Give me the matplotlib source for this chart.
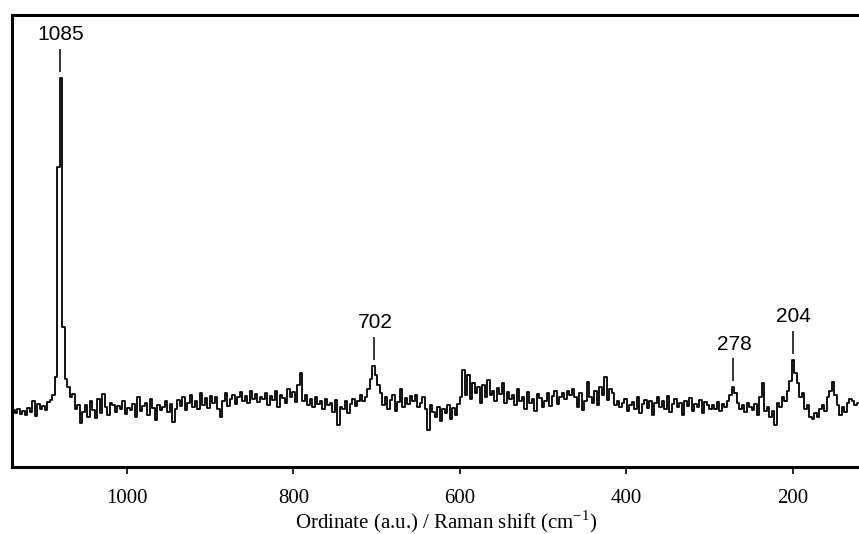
import numpy as np
import matplotlib.pyplot as plt

plt.rcParams['mathtext.fontset'] = 'custom'
plt.rcParams['mathtext.rm'] = 'Liberation Serif'

# Raman shift grid (cm-1), high to low, and intensity
shift = np.arange(1136, 120, -3)
intensity = [
    57, 54, 58, 53, 56, 52, 59, 55, 66, 51, 63, 58, 61, 57, 65, 67, 72, 90, 300, 389,
    140, 88, 80, 70, 73, 58, 62, 44, 55, 62, 50, 66, 57, 49, 68, 54, 73, 60, 52, 64,
    62, 55, 61, 58, 66, 53, 59, 57, 63, 50, 70, 56, 61, 64, 52, 68, 59, 47, 62, 57,
    60, 66, 55, 63, 45, 58, 67, 61, 70, 57, 64, 72, 60, 66, 58, 74, 62, 69, 59, 71,
    64, 70, 58, 50, 66, 74, 61, 68, 72, 63, 70, 75, 66, 71, 64, 76, 68, 73, 65, 70,
    68, 74, 62, 71, 67, 76, 60, 72, 69, 64, 78, 70, 75, 65, 82, 94, 66, 72, 62, 68,
    60, 70, 63, 66, 58, 68, 62, 64, 55, 67, 42, 60, 58, 66, 54, 63, 68, 61, 66, 72,
    66, 70, 78, 88, 101, 92, 82, 74, 62, 70, 58, 67, 72, 56, 65, 78, 60, 69, 63, 71,
    66, 72, 60, 64, 70, 58, 37, 62, 55, 50, 60, 46, 58, 54, 62, 48, 59, 52, 63, 70,
    97, 72, 92, 68, 84, 74, 80, 64, 82, 70, 87, 72, 76, 66, 79, 73, 84, 64, 75, 68,
    72, 62, 78, 66, 70, 58, 75, 64, 68, 56, 73, 69, 60, 66, 74, 61, 71, 76, 63, 70,
    74, 68, 76, 72, 78, 70, 60, 74, 57, 66, 85, 70, 64, 76, 62, 80, 72, 90, 67, 78,
    74, 62, 66, 60, 64, 68, 56, 62, 65, 58, 70, 54, 63, 67, 59, 66, 52, 64, 70, 60,
    66, 58, 71, 55, 63, 68, 60, 64, 52, 66, 61, 69, 56, 63, 60, 67, 54, 65, 62, 58,
    62, 58, 65, 56, 63, 60, 66, 72, 80, 74, 64, 58, 62, 55, 64, 60, 57, 63, 52, 70,
    84, 56, 60, 50, 56, 42, 64, 60, 70, 66, 76, 86, 107, 94, 84, 70, 74, 58, 62, 50,
    48, 54, 50, 58, 62, 56, 70, 76, 85, 72, 62, 52, 60, 55, 64, 68, 66, 62, 64,
]

# labelled peaks: where the marker sits, and the text written above it
peak_pos = [1080, 703, 272, 200]
peak_text = ['1085', '702', '278', '204']

fig = plt.figure(figsize=(8.59, 5.34), dpi=100)
ax = fig.add_axes([12 / 859, 1 - 467 / 534, 868 / 859, 452 / 534])

ax.plot(shift, intensity, color='black', lw=1.3, drawstyle='steps-mid')

intensity = np.array(intensity)
for pos, txt in zip(peak_pos, peak_text):
    top = intensity[np.abs(shift - pos) <= 4].max()
    ax.vlines(pos, top + 6, top + 29, color='black', lw=1.1)
    ax.text(pos - 1, top + 43, txt, ha='center', va='center',
            fontsize=15, family='Liberation Sans')

ax.set_xlim(1138, 95.5)
ax.set_ylim(0, 452)
ax.set_xticks([1000, 800, 600, 400, 200])
ax.set_yticks([])
ax.tick_params(axis='x', direction='out', length=5, width=1.2, pad=11,
               labelsize=15, labelfontfamily='Liberation Serif')
for s in ax.spines.values():
    s.set_linewidth(2.2)
ax.spines['right'].set_visible(False)

ax.set_xlabel('Ordinate (a.u.) / Raman shift (cm$^{-1}$)', fontsize=15,
              family='Liberation Serif', labelpad=0)

fig.savefig('out.png', dpi=100)
